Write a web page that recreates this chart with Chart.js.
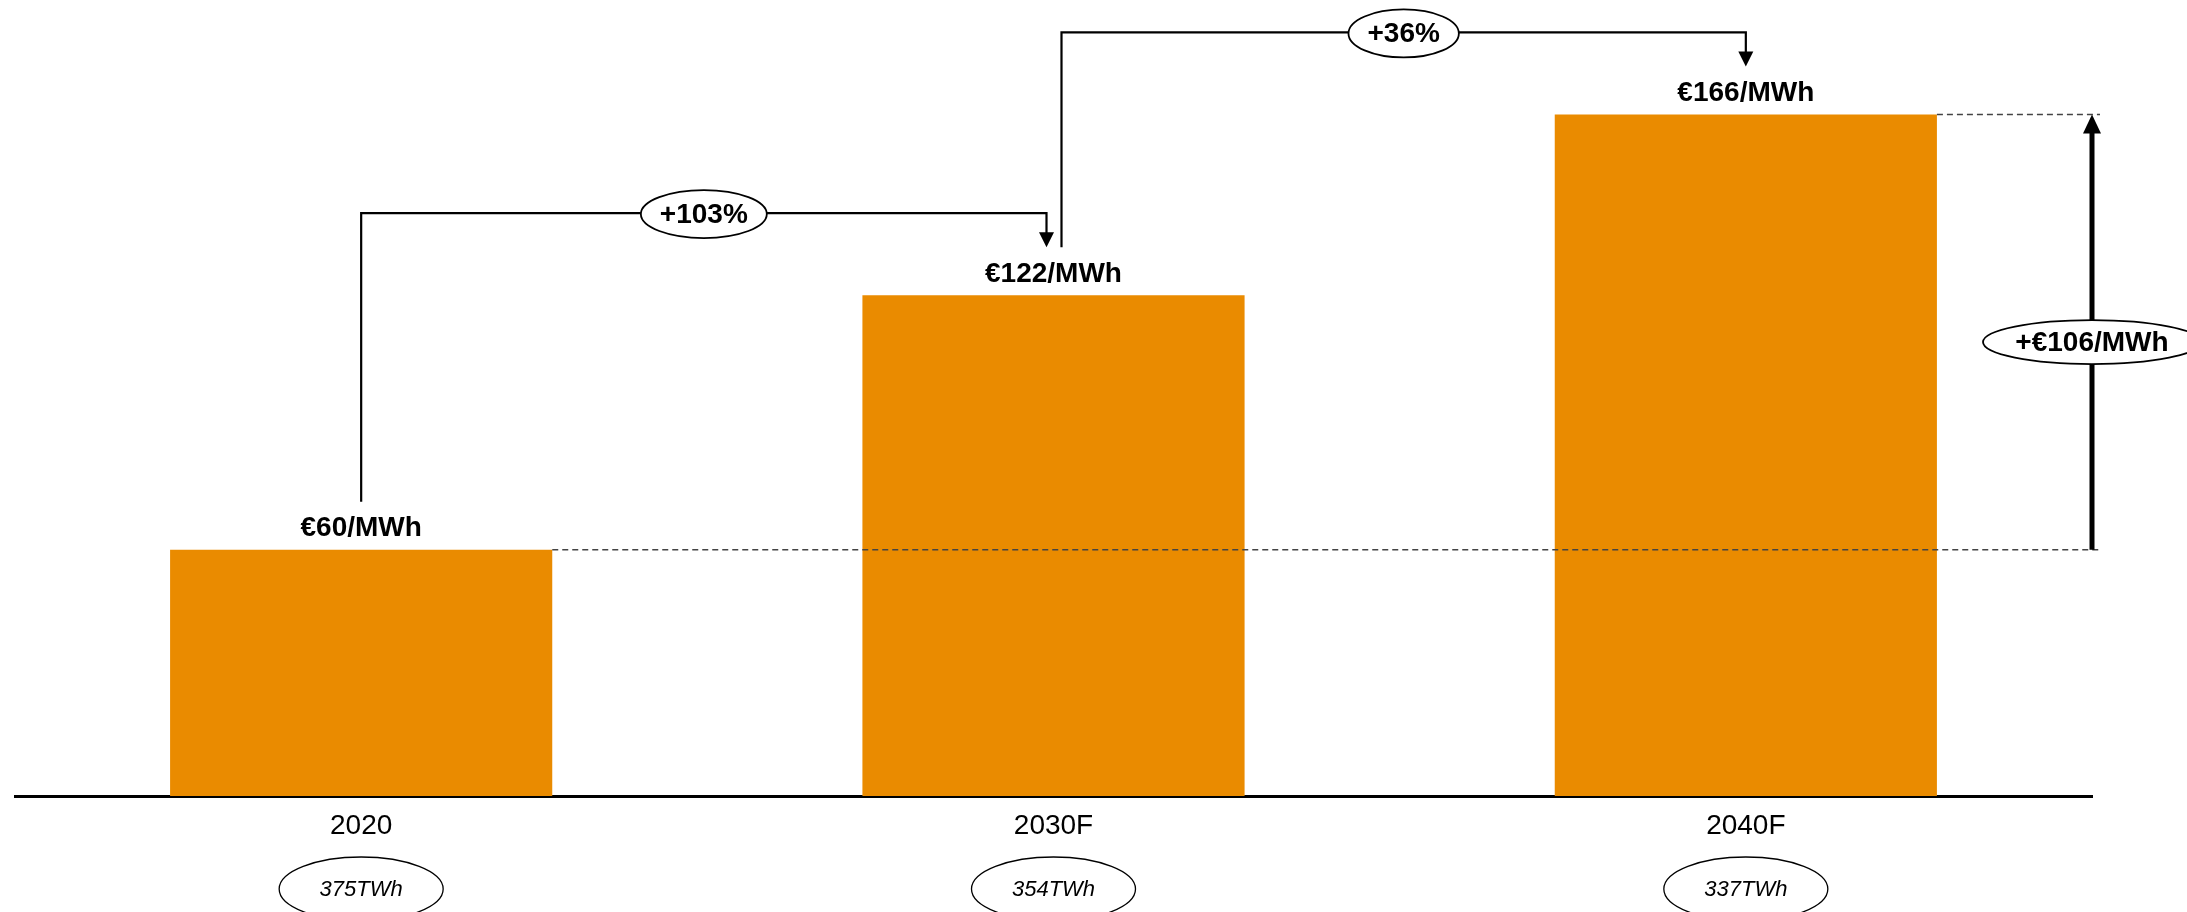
<!DOCTYPE html>
<html>
<head>
<meta charset="utf-8">
<script src="https://cdn.jsdelivr.net/npm/chart.js@4.4.1/dist/chart.umd.min.js"></script>
<style>
    html, body { margin: 0; padding: 0; background: #fff; }
    #priceChart { display: block; }
</style>
</head>
<body>
<canvas id="priceChart" width="2187" height="912"></canvas>
<script>
const categories = ['2020', '2030F', '2040F'];
const prices = [60, 122, 166];
const priceLabels = ['€60/MWh', '€122/MWh', '€166/MWh'];
const volumeLabels = ['375TWh', '354TWh', '337TWh'];
const growthLabels = ['+103%', '+36%'];
const growthLevels = [142, 186]; // where the bracket lines sit, in €/MWh
const totalLabel = '+€106/MWh';

const FONT = "'Liberation Sans', Arial, sans-serif";
const BAR_COLOR = '#EA8B00';

function ellipseLabel(ctx, x, y, rx, ry, text, font, lineWidth) {
    ctx.save();
    ctx.beginPath();
    ctx.ellipse(x, y, rx, ry, 0, 0, Math.PI * 2);
    ctx.fillStyle = '#fff';
    ctx.fill();
    ctx.lineWidth = lineWidth || 1.8;
    ctx.strokeStyle = '#000';
    ctx.setLineDash([]);
    ctx.stroke();
    ctx.fillStyle = '#000';
    ctx.font = font;
    ctx.textAlign = 'center';
    ctx.textBaseline = 'middle';
    ctx.fillText(text, x, y + 1);
    ctx.restore();
}

// dir 1 = points down, -1 = points up; (x, y) is the tip
function arrowHead(ctx, x, y, dir, w, h) {
    ctx.beginPath();
    ctx.moveTo(x, y);
    ctx.lineTo(x - w / 2, y - dir * h);
    ctx.lineTo(x + w / 2, y - dir * h);
    ctx.closePath();
    ctx.fill();
}

const annotations = {
    id: 'annotations',
    afterDraw(chart) {
        const ctx = chart.ctx;
        const xs = chart.scales.x;
        const ys = chart.scales.y;
        const bars = chart.getDatasetMeta(0).data;
        const last = bars.length - 1;
        const boldFont = `bold 28px ${FONT}`;

        ctx.save();

        // value labels above the bars
        ctx.fillStyle = '#000';
        ctx.font = boldFont;
        ctx.textAlign = 'center';
        ctx.textBaseline = 'middle';
        bars.forEach((bar, i) => ctx.fillText(priceLabels[i], bar.x, bar.y - 21));

        // dashed guides from first and last bar
        const yFirst = ys.getPixelForValue(prices[0]);
        const yLast = ys.getPixelForValue(prices[last]);
        ctx.setLineDash([6, 4]);
        ctx.strokeStyle = '#444';
        ctx.lineWidth = 1.5;
        ctx.beginPath();
        ctx.moveTo(bars[0].x + bars[0].width / 2, yFirst);
        ctx.lineTo(xs.right + 8, yFirst);
        ctx.moveTo(bars[last].x + bars[last].width / 2, yLast);
        ctx.lineTo(xs.right + 8, yLast);
        ctx.stroke();
        ctx.setLineDash([]);

        // total change arrow
        ctx.strokeStyle = '#000';
        ctx.fillStyle = '#000';
        ctx.lineWidth = 5;
        ctx.beginPath();
        ctx.moveTo(xs.right, yFirst);
        ctx.lineTo(xs.right, yLast + 16);
        ctx.stroke();
        arrowHead(ctx, xs.right, yLast, -1, 18, 19);
        ellipseLabel(ctx, xs.right, (yFirst + yLast) / 2 + 10, 109, 22, totalLabel, boldFont);

        // growth brackets between bars
        ctx.lineWidth = 2.2;
        growthLabels.forEach((label, i) => {
            const from = bars[i];
            const to = bars[i + 1];
            const startX = from.x + (i > 0 ? 8 : 0);
            const endX = to.x - (i < growthLabels.length - 1 ? 7 : 0);
            const startY = from.y - 48;
            const tipY = to.y - 48;
            const topY = ys.getPixelForValue(growthLevels[i]);
            ctx.strokeStyle = '#000';
            ctx.fillStyle = '#000';
            ctx.beginPath();
            ctx.moveTo(startX, startY);
            ctx.lineTo(startX, topY);
            ctx.lineTo(endX, topY);
            ctx.lineTo(endX, tipY - 12);
            ctx.stroke();
            arrowHead(ctx, endX, tipY, 1, 15, 15);
            ctx.font = boldFont;
            const w = ctx.measureText(label).width;
            ellipseLabel(ctx, (startX + endX) / 2, topY + 1, w / 2 + 19, 24, label, boldFont);
        });

        // volume ellipses under the axis
        bars.forEach((bar, i) => {
            ellipseLabel(ctx, bar.x, 889, 82, 32, volumeLabels[i], `italic 22px ${FONT}`, 1.3);
        });

        ctx.restore();
    }
};

new Chart(document.getElementById('priceChart'), {
    type: 'bar',
    data: {
        labels: categories,
        datasets: [{
            data: prices,
            backgroundColor: BAR_COLOR,
            borderWidth: 0,
            categoryPercentage: 1,
            barPercentage: 0.552
        }]
    },
    options: {
        responsive: false,
        animation: false,
        layout: {
            padding: { left: 15, right: 95, top: 16, bottom: 0 }
        },
        plugins: {
            legend: { display: false },
            tooltip: { enabled: false }
        },
        scales: {
            x: {
                z: 1,
                grid: { display: false, drawTicks: false },
                border: { display: true, color: '#000', width: 3 },
                ticks: {
                    color: '#000',
                    padding: 13,
                    font: { family: FONT, size: 28 }
                },
                afterFit(scale) {
                    scale.height = 116;
                }
            },
            y: {
                display: false,
                min: 0,
                max: 190
            }
        }
    },
    plugins: [annotations]
});
</script>
</body>
</html>
